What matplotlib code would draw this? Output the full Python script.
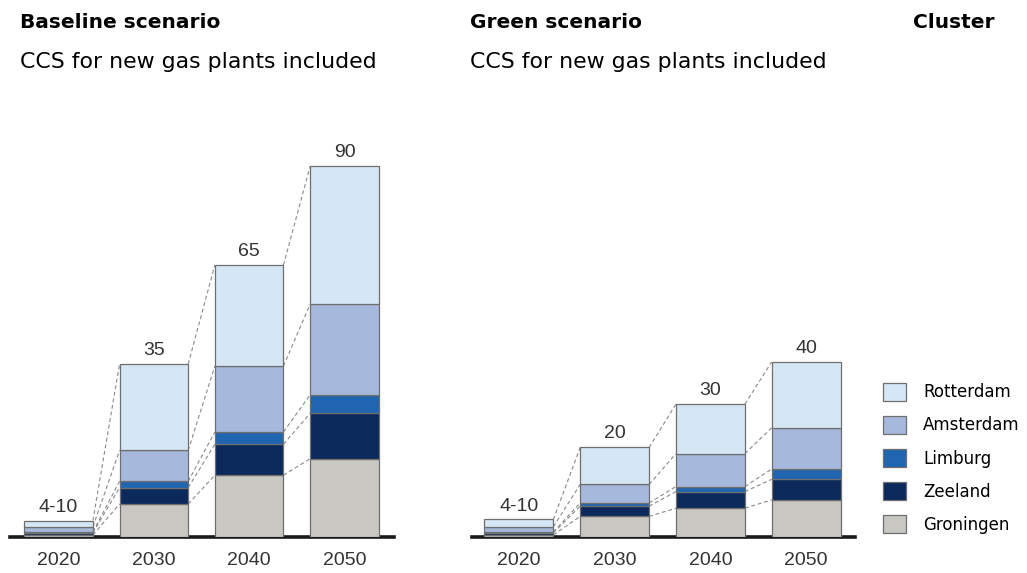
import matplotlib
matplotlib.use("Agg")
import matplotlib.pyplot as plt
import numpy as np

years = ["2020", "2030", "2040", "2050"]
clusters = ["Groningen", "Zeeland", "Limburg", "Amsterdam", "Rotterdam"]
colors = ["#c8c7c2", "#0b2a5b", "#2065b0", "#a6b8dc", "#d5e6f4"]

# segment sizes (Mt CO2), bottom to top
baseline = {
    "Groningen": [0.5, 8.0, 15.0, 19.0],
    "Zeeland":   [0.5, 4.0, 7.5, 11.0],
    "Limburg":   [0.25, 1.5, 3.0, 4.5],
    "Amsterdam": [1.25, 7.5, 16.0, 22.0],
    "Rotterdam": [1.5, 21.0, 24.5, 33.5],
}
green = {
    "Groningen": [0.5, 5.0, 7.0, 9.0],
    "Zeeland":   [0.5, 2.5, 4.0, 5.0],
    "Limburg":   [0.25, 0.75, 1.25, 2.5],
    "Amsterdam": [1.25, 4.5, 8.0, 10.0],
    "Rotterdam": [1.75, 9.0, 12.0, 16.0],
}
baseline_labels = ["4-10", "35", "65", "90"]
green_labels = ["4-10", "20", "30", "40"]

W, H = 1027, 573
fig = plt.figure(figsize=(W / 100, H / 100), dpi=100)

px = 4.12  # pixels per unit on the y axis
ax_h = 400
ymax = ax_h / px


def draw_panel(ax, data, labels, xlim):
    x = np.arange(len(years))
    width = 0.72
    bottom = np.zeros(len(years))
    bounds = []
    handles = []
    for name, c in zip(clusters, colors):
        vals = np.array(data[name])
        b = ax.bar(x, vals, width, bottom=bottom, color=c, edgecolor="#6f6f6f",
                   linewidth=0.9, label=name, zorder=3)
        handles.append(b)
        bottom = bottom + vals
        bounds.append(bottom.copy())
    # dashed connectors between matching boundaries of neighbouring bars
    for bd in bounds:
        for i in range(len(years) - 1):
            ax.plot([x[i] + width / 2, x[i + 1] - width / 2], [bd[i], bd[i + 1]],
                    ls=(0, (3.5, 2.5)), color="#8a8a8a", lw=0.8, zorder=2)
    for i, lab in enumerate(labels):
        ax.text(x[i], bottom[i] + 1.2, lab, ha="center", va="bottom",
                fontsize=14, color="#333333", family="Liberation Sans")
    ax.set_xlim(*xlim)
    ax.set_ylim(0, ymax)
    for s in ["top", "right", "left"]:
        ax.spines[s].set_visible(False)
    ax.spines["bottom"].set_linewidth(2.6)
    ax.spines["bottom"].set_color("#1a1a1a")
    ax.set_yticks([])
    ax.set_xticks(x)
    ax.set_xticklabels(years, fontsize=14, color="#333333", family="Liberation Sans")
    ax.tick_params(axis="x", length=0, pad=11)
    return handles


ax1 = fig.add_axes([10 / W, 36 / H, 384 / W, ax_h / H])
ax2 = fig.add_axes([472 / W, 36 / H, 383 / W, ax_h / H])
handles = draw_panel(ax1, baseline, baseline_labels, (-0.51, 3.52))
draw_panel(ax2, green, green_labels, (-0.49, 3.51))

fig.text(20 / W, 1 - 22 / H, "Baseline scenario", fontsize=14.5, fontweight="heavy",
         va="center", ha="left")
fig.text(20 / W, 1 - 62 / H, "CCS for new gas plants included", fontsize=15.8,
         va="center", ha="left")
fig.text(470 / W, 1 - 22 / H, "Green scenario", fontsize=14.5, fontweight="heavy",
         va="center", ha="left")
fig.text(470 / W, 1 - 62 / H, "CCS for new gas plants included", fontsize=15.8,
         va="center", ha="left")
fig.text(913 / W, 1 - 22 / H, "Cluster", fontsize=14.5, fontweight="heavy",
         va="center", ha="left")

fig.legend(handles[::-1], clusters[::-1], loc="upper left",
           bbox_to_anchor=(883 / W, 1 - 383 / H), frameon=False, fontsize=12,
           handlelength=1.4, handleheight=1.25, handletextpad=1.0, labelspacing=0.88,
           borderaxespad=0, borderpad=0)

fig.savefig("out.png", dpi=100)
